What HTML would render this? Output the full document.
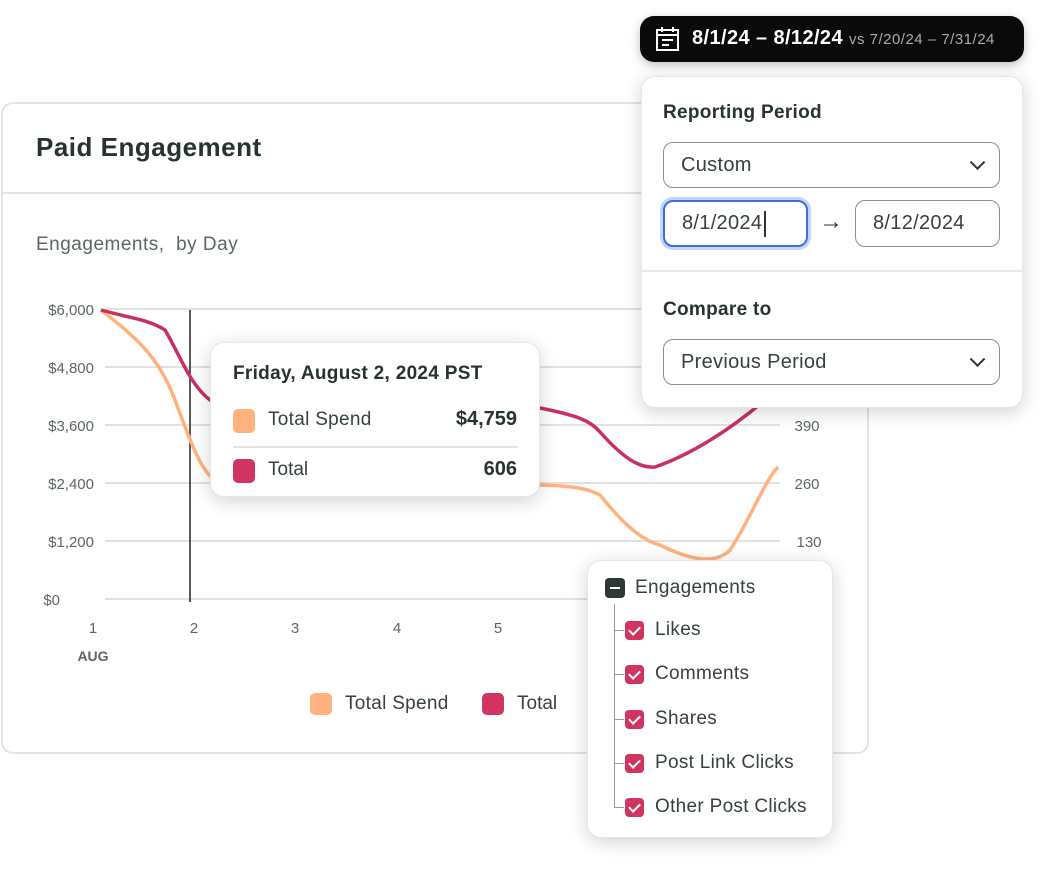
<!DOCTYPE html>
<html><head><meta charset="utf-8"><style>
*{box-sizing:border-box;margin:0;padding:0}
body{width:1056px;height:889px;background:#fff;position:relative;overflow:hidden;font-family:"Liberation Sans",sans-serif;color:#364141}
.a{position:absolute}
.card{left:1px;top:102px;width:868px;height:652px;border:2px solid #e3e4e4;border-radius:12px;background:#fff}
.pop{background:#fff;border-radius:14px;box-shadow:0 4px 18px rgba(0,0,0,.18);border:1px solid #e6e6e6}
.sel{border:1.5px solid #8a9090;border-radius:10px;background:#fff;font-size:20px;color:#364141;padding-left:17px;display:flex;align-items:center;letter-spacing:.3px}
.chev{position:absolute;right:16px;top:50%;width:11px;height:11px;border-right:2px solid #333;border-bottom:2px solid #333;transform:translateY(-75%) rotate(45deg)}
.cb{width:19px;height:19px;background:#d0345f;border-radius:4px;position:absolute;left:625px}
.cb:after{content:"";position:absolute;left:6px;top:3px;width:5px;height:9px;border-right:2px solid #fff;border-bottom:2px solid #fff;transform:rotate(45deg)}
.li{position:absolute;left:655px;font-size:19px;color:#364141;letter-spacing:.3px}
.tick{position:absolute;left:614px;width:10px;border-top:1.5px solid #999}
</style></head><body>
<div class="a card"></div>
<div class="a" style="left:36px;top:132px;font-size:26px;font-weight:bold;color:#273333;letter-spacing:.5px">Paid Engagement</div>
<div class="a" style="left:3px;top:192px;width:864px;border-top:2px solid #e3e4e4"></div>
<div class="a" style="left:36px;top:234px;font-size:19px;color:#5c6666;letter-spacing:.5px">Engagements,&nbsp; by Day</div>

<svg class="a" style="left:0;top:0" width="1056" height="889">
<g stroke="#e0e2e2" stroke-width="2">
<line x1="105" y1="309" x2="780" y2="309"/><line x1="105" y1="367" x2="780" y2="367"/>
<line x1="105" y1="425" x2="780" y2="425"/><line x1="105" y1="483" x2="780" y2="483"/>
<line x1="105" y1="541" x2="780" y2="541"/><line x1="105" y1="599" x2="780" y2="599"/>
</g>
<g font-family="Liberation Sans" font-size="15" fill="#5c6666">
<text x="94" y="315" text-anchor="end">$6,000</text><text x="94" y="373" text-anchor="end">$4,800</text>
<text x="94" y="431" text-anchor="end">$3,600</text><text x="94" y="489" text-anchor="end">$2,400</text>
<text x="94" y="547" text-anchor="end">$1,200</text><text x="60" y="605" text-anchor="end">$0</text>
<text x="807" y="431" text-anchor="middle">390</text><text x="807" y="489" text-anchor="middle">260</text><text x="809" y="547" text-anchor="middle">130</text>
<text x="93" y="633" text-anchor="middle">1</text><text x="194" y="633" text-anchor="middle">2</text><text x="295" y="633" text-anchor="middle">3</text><text x="397" y="633" text-anchor="middle">4</text><text x="498" y="633" text-anchor="middle">5</text>
<text x="93" y="661" text-anchor="middle" font-weight="bold" font-size="14">AUG</text>
</g>
<line x1="190" y1="310" x2="190" y2="602" stroke="#222" stroke-width="1.5"/>
<path d="M101,310 C140,340 160,360 175,400 C190,440 200,470 215,480 C300,485 400,485 540,485 C580,486 590,490 600,495 C620,520 640,540 660,545 C690,560 715,565 730,550 C750,520 765,480 778,467" fill="none" stroke="#ffb27d" stroke-width="3.5"/>
<path d="M101,310 C130,318 150,320 165,330 C180,355 190,385 210,400 C300,400 450,400 540,408 C575,415 590,420 600,432 C625,460 640,468 655,467 C690,455 730,430 765,400" fill="none" stroke="#c9305d" stroke-width="3.5"/>
</svg>

<div class="a" style="left:310px;top:693px;width:22px;height:22px;border-radius:5px;background:#ffb27d"></div>
<div class="a" style="left:345px;top:693px;font-size:19px;color:#364141;letter-spacing:.3px">Total Spend</div>
<div class="a" style="left:482px;top:693px;width:22px;height:22px;border-radius:5px;background:#d0345f"></div>
<div class="a" style="left:517px;top:693px;font-size:19px;color:#364141">Total</div>

<div class="a pop" style="left:210px;top:342px;width:330px;height:155px"></div>
<div class="a" style="left:233px;top:363px;font-size:19px;font-weight:bold;color:#273333;letter-spacing:.3px">Friday, August 2, 2024 PST</div>
<div class="a" style="left:233px;top:409px;width:22px;height:24px;border-radius:5px;background:#ffb27d"></div>
<div class="a" style="left:268px;top:409px;font-size:19px;letter-spacing:.3px">Total Spend</div>
<div class="a" style="left:420px;top:408px;width:97px;text-align:right;font-size:20px;font-weight:bold;color:#273333">$4,759</div>
<div class="a" style="left:233px;top:446px;width:285px;border-top:2px solid #e3e4e4"></div>
<div class="a" style="left:233px;top:459px;width:22px;height:24px;border-radius:5px;background:#d0345f"></div>
<div class="a" style="left:268px;top:459px;font-size:19px">Total</div>
<div class="a" style="left:420px;top:458px;width:97px;text-align:right;font-size:20px;font-weight:bold;color:#273333">606</div>

<div class="a" style="left:640px;top:16px;width:384px;height:46px;background:#0a0a0a;border-radius:14px;box-shadow:0 3px 10px rgba(0,0,0,.25)"></div>
<svg class="a" style="left:655px;top:26px" width="26" height="26"><rect x="2" y="4" width="21" height="20" fill="none" stroke="#fff" stroke-width="2"/><line x1="2" y1="9" x2="23" y2="9" stroke="#fff" stroke-width="2"/><line x1="7" y1="1" x2="7" y2="6" stroke="#fff" stroke-width="2"/><line x1="18" y1="1" x2="18" y2="6" stroke="#fff" stroke-width="2"/><line x1="7" y1="14" x2="18" y2="14" stroke="#fff" stroke-width="2"/><line x1="7" y1="19" x2="14" y2="19" stroke="#fff" stroke-width="2"/></svg>
<div class="a" style="left:692px;top:27px;font-size:20px;font-weight:bold;color:#fff;white-space:nowrap;letter-spacing:.4px">8/1/24 – 8/12/24 <span style="font-weight:normal;font-size:15px;color:#aaa;letter-spacing:.5px">vs 7/20/24 – 7/31/24</span></div>

<div class="a pop" style="left:641px;top:76px;width:382px;height:332px"></div>
<div class="a" style="left:663px;top:102px;font-size:19px;font-weight:bold;color:#273333;letter-spacing:.3px">Reporting Period</div>
<div class="a sel" style="left:663px;top:142px;width:337px;height:46px">Custom<span class="chev"></span></div>
<div class="a sel" style="left:663px;top:200px;width:145px;height:47px;border:2px solid #3a6fd8;box-shadow:0 0 0 3px #c3d6f5">8/1/2024<span style="display:inline-block;width:2px;height:26px;background:#333;margin-left:2px"></span></div>
<div class="a" style="left:819px;top:208px;font-size:24px;color:#333">→</div>
<div class="a sel" style="left:855px;top:200px;width:145px;height:47px">8/12/2024</div>
<div class="a" style="left:642px;top:270px;width:380px;border-top:2px solid #e8e9e9"></div>
<div class="a" style="left:663px;top:299px;font-size:19px;font-weight:bold;color:#273333;letter-spacing:.3px">Compare to</div>
<div class="a sel" style="left:663px;top:339px;width:337px;height:46px">Previous Period<span class="chev"></span></div>

<div class="a pop" style="left:587px;top:560px;width:246px;height:278px"></div>
<div class="a" style="left:605px;top:578px;width:20px;height:20px;border-radius:4px;background:#2e3636"></div>
<div class="a" style="left:610px;top:587px;width:10px;border-top:2px solid #fff"></div>
<div class="a" style="left:635px;top:577px;font-size:19px;letter-spacing:.3px">Engagements</div>
<div class="a" style="left:614px;top:604px;height:204px;border-left:1.5px solid #999"></div>
<div class="tick" style="top:630px"></div><div class="tick" style="top:674px"></div><div class="tick" style="top:719px"></div><div class="tick" style="top:763px"></div><div class="tick" style="top:807px"></div>
<div class="cb" style="top:621px"></div><div class="li" style="top:619px">Likes</div>
<div class="cb" style="top:665px"></div><div class="li" style="top:663px">Comments</div>
<div class="cb" style="top:710px"></div><div class="li" style="top:708px">Shares</div>
<div class="cb" style="top:754px"></div><div class="li" style="top:752px">Post Link Clicks</div>
<div class="cb" style="top:798px"></div><div class="li" style="top:796px">Other Post Clicks</div>
</body></html>
